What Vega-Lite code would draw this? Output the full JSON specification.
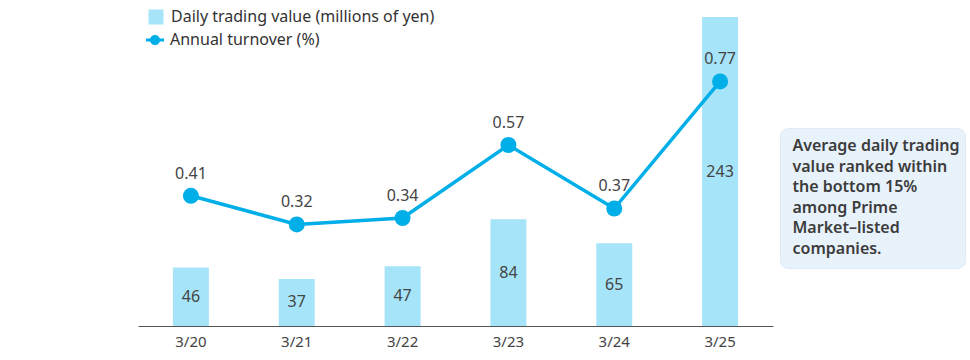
{
  "$schema": "https://vega.github.io/schema/vega-lite/v6.json",
  "padding": {"left": 138, "top": 9, "right": 5, "bottom": 5},
  "bounds": "flush",
  "spacing": 7,
  "config": {
    "font": "Noto Sans",
    "view": {"stroke": null},
    "legend": {"padding": 0}
  },
  "hconcat": [
    {
      "width": 635,
      "height": 309,
      "data": {
        "values": [
          {"date": "3/20", "value": 46, "turnover": 0.41},
          {"date": "3/21", "value": 37, "turnover": 0.32},
          {"date": "3/22", "value": 47, "turnover": 0.34},
          {"date": "3/23", "value": 84, "turnover": 0.57},
          {"date": "3/24", "value": 65, "turnover": 0.37},
          {"date": "3/25", "value": 243, "turnover": 0.77}
        ]
      },
      "encoding": {
        "x": {
          "field": "date",
          "type": "nominal",
          "sort": null,
          "scale": {"paddingInner": 0.66, "paddingOuter": 0.33},
          "axis": {
            "title": null,
            "labelAngle": 0,
            "ticks": false,
            "grid": false,
            "domainColor": "#555555",
            "domainWidth": 1,
            "labelFontSize": 15,
            "labelColor": "#444444",
            "labelPadding": 8
          }
        }
      },
      "layer": [
        {
          "mark": {"type": "bar"},
          "encoding": {
            "y": {"field": "value", "type": "quantitative", "scale": {"domain": [0, 243], "nice": false}, "axis": null},
            "fill": {
              "datum": "Daily trading value (millions of yen)",
              "scale": {"range": ["#a6e4fa"]},
              "legend": {
                "orient": "none",
                "legendX": 10,
                "legendY": -8,
                "title": null,
                "symbolType": "square",
                "symbolSize": 225,
                "symbolStrokeWidth": 0,
                "labelFontSize": 16,
                "labelLimit": 500,
                "labelColor": "#333333",
                "labelOffset": 7
              }
            }
          }
        },
        {
          "mark": {"type": "text", "baseline": "middle", "fontSize": 16, "color": "#444444"},
          "encoding": {
            "y": {"field": "value", "type": "quantitative", "scale": {"domain": [0, 486], "nice": false}, "axis": null},
            "text": {"field": "value", "type": "quantitative"}
          }
        },
        {
          "mark": {"type": "line", "strokeWidth": 3.5},
          "encoding": {
            "y": {"field": "turnover", "type": "quantitative", "scale": {"domain": [0, 0.973], "nice": false}, "axis": null},
            "stroke": {
              "datum": "Annual turnover (%)",
              "scale": {"range": ["#00aee8"]},
              "legend": {
                "orient": "none",
                "legendX": 8,
                "legendY": 14,
                "title": null,
                "symbolType": "M-1,-0.17H1V0.17H-1Z M0.56,0A0.56,0.56 0 1,1 -0.56,0A0.56,0.56 0 1,1 0.56,0Z",
                "symbolSize": 324,
                "symbolFillColor": "#00aee8",
                "symbolStrokeWidth": 0,
                "labelFontSize": 16,
                "labelLimit": 500,
                "labelColor": "#333333",
                "labelOffset": 6
              }
            }
          }
        },
        {
          "mark": {"type": "point", "filled": true, "size": 256, "opacity": 1, "color": "#00aee8"},
          "encoding": {
            "y": {"field": "turnover", "type": "quantitative", "scale": {"domain": [0, 0.973], "nice": false}, "axis": null}
          }
        },
        {
          "mark": {"type": "text", "baseline": "middle", "dy": -22, "fontSize": 16, "color": "#444444"},
          "encoding": {
            "y": {"field": "turnover", "type": "quantitative", "scale": {"domain": [0, 0.973], "nice": false}, "axis": null},
            "text": {"field": "turnover", "type": "quantitative", "format": ".2f"}
          }
        }
      ],
      "resolve": {"scale": {"y": "independent"}}
    },
    {
      "bounds": "flush",
      "spacing": 0,
      "vconcat": [
        {
          "width": 185,
          "height": 111,
          "data": {"values": [{}]},
          "mark": {"type": "text", "text": ""}
        },
        {
          "width": 185,
          "height": 140,
          "view": {"fill": "#e8f2fb", "stroke": "#deebf6", "cornerRadius": 8},
          "data": {
            "values": [
              {"note": "Average daily trading\nvalue ranked within\nthe bottom 15%\namong Prime\nMarket–listed\ncompanies."}
            ]
          },
          "mark": {
            "type": "text",
            "lineBreak": "\n",
            "align": "left",
            "baseline": "middle",
            "dx": -80,
            "dy": -52,
            "fontSize": 16,
            "fontWeight": 600,
            "lineHeight": 20.6,
            "color": "#3c3c3c"
          },
          "encoding": {"text": {"field": "note", "type": "nominal"}}
        }
      ]
    }
  ]
}
